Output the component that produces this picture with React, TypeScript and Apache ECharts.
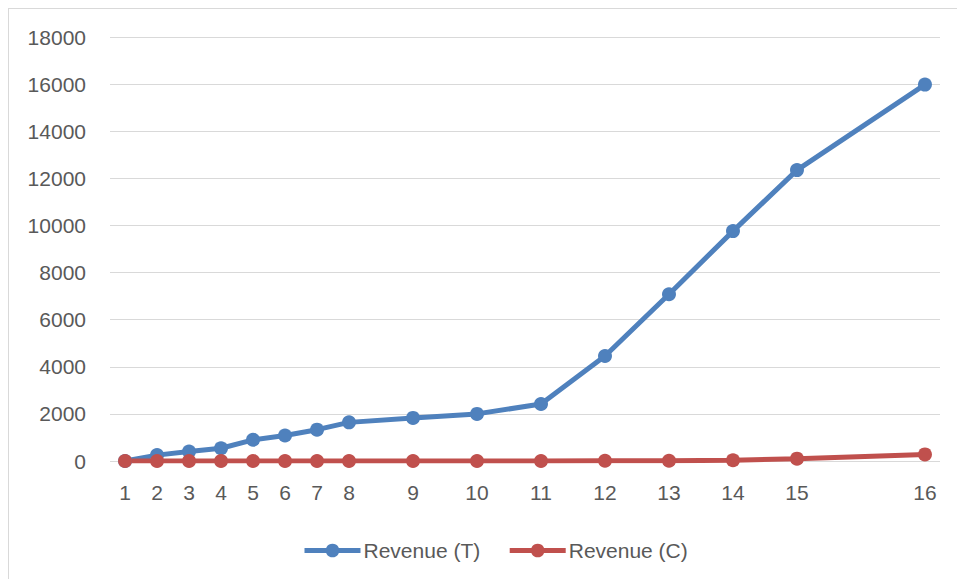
import React, { useEffect, useRef } from "react";
import * as echarts from "echarts";

const categories = ["1", "2", "3", "4", "5", "6", "7", "8", "9", "10", "11", "12", "13", "14", "15", "16"];
const xValues = [0, 1, 2, 3, 4, 5, 6, 7, 9, 11, 13, 15, 17, 19, 21, 25];
const revenueT = [0, 250, 400, 540, 900, 1080, 1330, 1640, 1830, 2000, 2420, 4460, 7080, 9760, 12350, 15980];
const revenueC = [0, 0, 0, 0, 0, 0, 0, 0, 0, 0, 0, 10, 10, 30, 100, 280];
const yTicks = [0, 2000, 4000, 6000, 8000, 10000, 12000, 14000, 16000, 18000];

const FONT = "Liberation Sans";
const TEXT = "#595959";

export default function App() {
  const ref = useRef<HTMLDivElement>(null);
  useEffect(() => {
    if (!ref.current) return;
    const chart = echarts.init(ref.current, null, { renderer: "svg" });
    chart.setOption({
      animation: false,
      backgroundColor: "#ffffff",
      textStyle: { fontFamily: FONT },
      graphic: [
        { type: "line", shape: { x1: 8.5, y1: 8, x2: 8.5, y2: 579 }, style: { stroke: "#d9d9d9", lineWidth: 1 }, silent: true },
        { type: "line", shape: { x1: 8, y1: 8.5, x2: 957, y2: 8.5 }, style: { stroke: "#d9d9d9", lineWidth: 1 }, silent: true },
      ],
      grid: { left: 110, right: 17, top: 37, bottom: 118, containLabel: false },
      xAxis: {
        type: "value",
        min: -0.47,
        max: 25.47,
        axisLine: { show: false },
        axisTick: { show: false },
        splitLine: { show: false },
        axisLabel: {
          customValues: xValues,
          formatter: (v: number) => {
            const i = xValues.indexOf(v);
            return i >= 0 ? categories[i] : "";
          },
          color: TEXT,
          fontSize: 21,
          fontFamily: FONT,
          margin: 21,
        },
      },
      yAxis: {
        type: "value",
        min: yTicks[0],
        max: yTicks[yTicks.length - 1],
        interval: 2000,
        axisLine: { show: false },
        axisTick: { show: false },
        splitLine: { lineStyle: { color: "#d9d9d9", width: 1 } },
        axisLabel: { color: TEXT, fontSize: 21, fontFamily: FONT, margin: 24, formatter: (v: number) => String(v) },
      },
      legend: {
        left: 297,
        top: 535,
        itemWidth: 56,
        itemHeight: 17,
        itemGap: 27,
        lineStyle: { width: 5 },
        textStyle: { color: TEXT, fontSize: 21, fontFamily: FONT, padding: [0, 0, 0, -2] },
        data: ["Revenue (T)", "Revenue (C)"],
      },
      series: [
        {
          name: "Revenue (T)",
          type: "line",
          data: xValues.map((x, i) => [x, revenueT[i]]),
          symbol: "circle",
          symbolSize: 14,
          lineStyle: { color: "#4F81BD", width: 5 },
          itemStyle: { color: "#4F81BD" },
        },
        {
          name: "Revenue (C)",
          type: "line",
          data: xValues.map((x, i) => [x, revenueC[i]]),
          symbol: "circle",
          symbolSize: 14,
          lineStyle: { color: "#C0504D", width: 5 },
          itemStyle: { color: "#C0504D" },
        },
      ],
    });
    return () => chart.dispose();
  }, []);
  return <div ref={ref} style={{ position: "absolute", left: 0, top: 0, width: 957, height: 579 }} />;
}
